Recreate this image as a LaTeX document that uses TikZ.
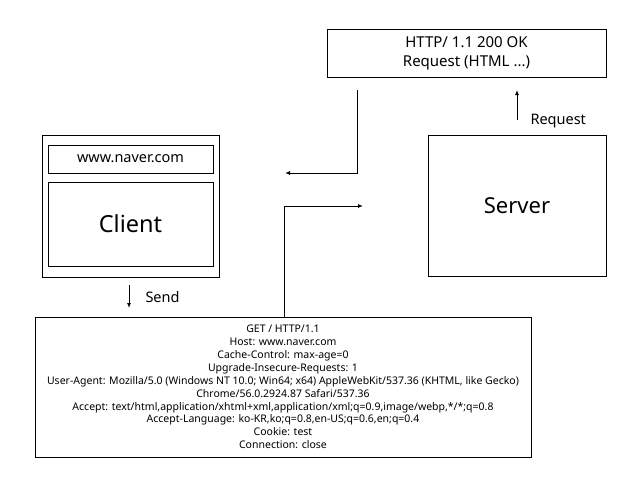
\documentclass[tikz,border=0pt]{standalone}
\usepackage{fontspec}
\setmainfont{Noto Sans}
\usetikzlibrary{arrows.meta}

\tikzset{
    box/.style={draw, line width=1pt, inner sep=0pt, align=center},
    arr/.style={line width=1pt, -{Latex[length=5pt,width=4pt]}}
}

\begin{document}
\begin{tikzpicture}[x=1pt, y=-1pt]
        \useasboundingbox (0, 0) rectangle (642, 491);
        % client side
        \node [box, minimum width=177pt, minimum height=142pt] (Browser) at (130.5, 206) {};
        \node [box, minimum width=165pt, minimum height=28pt, font=\fontsize{14.5}{17}\selectfont] (Url) at (130.5, 159) {www.naver.com};
        \node [box, minimum width=165pt, minimum height=84pt, font=\fontsize{23.5}{28}\selectfont] (Client) at (130.5, 224) {Client};
        % server side
        \node [box, minimum width=178pt, minimum height=141pt, font=\fontsize{22}{26}\selectfont] (Server) at (517, 205.5) {Server};
        \node [box, minimum width=279pt, minimum height=48pt, font=\fontsize{15}{19}\selectfont] (Response) at (466.5, 53) {HTTP/ 1.1 200 OK\\Request (HTML ...)};
        % request message
        \node [box, minimum width=496pt, minimum height=140pt, font=\fontsize{10.5}{12.9}\selectfont] (Message) at (283, 387) {GET / HTTP/1.1\\
            Host: www.naver.com\\
            Cache-Control: max-age=0\\
            Upgrade-Insecure-Requests: 1\\
            User-Agent: Mozilla/5.0 (Windows NT 10.0; Win64; x64) AppleWebKit/537.36 (KHTML, like Gecko)\\
            Chrome/56.0.2924.87 Safari/537.36\\
            Accept: text/html,application/xhtml+xml,application/xml;q=0.9,image/webp,*/*;q=0.8\\
            Accept-Language: ko-KR,ko;q=0.8,en-US;q=0.6,en;q=0.4\\
            Cookie: test\\
            Connection: close};
        % arrow ends
        \coordinate (RespTop) at (357, 90);
        \coordinate (RespEnd) at (285, 173);
        \coordinate (MsgTurn) at (284, 206);
        \coordinate (MsgEnd) at (363, 206);
        \coordinate (ReqFrom) at (517, 120);
        \coordinate (ReqTo) at (517, 90);
        \coordinate (SendFrom) at (129, 285);
        \coordinate (SendTo) at (129, 308);
        \draw [arr] (RespTop) |- (RespEnd);
        \draw [arr] (Message.north -| MsgTurn) |- (MsgEnd);
        \draw [arr] (ReqFrom) -- (ReqTo);
        \draw [arr] (SendFrom) -- (SendTo);
        \node [font=\fontsize{14.5}{17}\selectfont, anchor=west] (ReqLabel) at (527, 121) {Request};
        \node [font=\fontsize{14.5}{17}\selectfont, anchor=west] (SendLabel) at (142, 297) {Send};
    \end{tikzpicture}
\end{document}
